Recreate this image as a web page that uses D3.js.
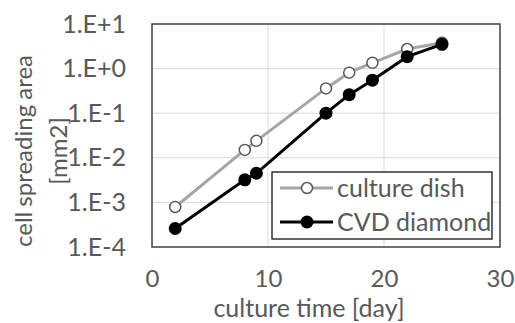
<!DOCTYPE html>
<html><head><meta charset="utf-8">
<script src="https://cdn.jsdelivr.net/npm/d3@7"></script>
<style>body{margin:0;background:#fff}svg{display:block}text{font-family:Lato,"Open Sans",sans-serif}</style>
</head><body><svg id="c" width="515" height="323"></svg>
<script>
const days = [2, 8, 9, 15, 17, 19, 22, 25];
const cultureDish = [7.9e-4, 0.015, 0.024, 0.36, 0.81, 1.35, 2.75, 3.8];
const cvdDiamond = [2.6e-4, 3.2e-3, 4.5e-3, 0.10, 0.26, 0.55, 1.85, 3.5];
const xTicks = [0, 10, 20, 30];
const yTicks = [1e-4, 1e-3, 1e-2, 1e-1, 1e0, 1e1];
const yTickLabels = ["1.E-4", "1.E-3", "1.E-2", "1.E-1", "1.E+0", "1.E+1"];
const seriesNames = ["culture dish", "CVD diamond"];

const svg = d3.select("#c");
const L = 152, R = 500, T = 24, B = 247;
const x = d3.scaleLinear().domain([0, 30]).range([L, R]);
const y = d3.scaleLog().domain([1e-4, 1e1]).range([B, T]);
const txt = "#595959";

svg.append("g").selectAll("line").data(yTicks.slice(1, -1)).join("line")
  .attr("x1", L).attr("x2", R).attr("y1", d => y(d)).attr("y2", d => y(d))
  .attr("stroke", "#d9d9d9").attr("stroke-width", 1);
svg.append("g").selectAll("line").data(xTicks.slice(1, -1)).join("line")
  .attr("y1", T).attr("y2", B).attr("x1", d => x(d)).attr("x2", d => x(d))
  .attr("stroke", "#d9d9d9").attr("stroke-width", 1);

const yAxis = svg.append("g").attr("transform", `translate(${L},0)`)
  .call(d3.axisLeft(y).tickValues(yTicks).tickFormat((d, i) => yTickLabels[i]).tickSize(0).tickPadding(26));
yAxis.select(".domain").remove();
yAxis.selectAll("text").attr("font-size", 25).attr("fill", txt).attr("font-family", "Lato,sans-serif");

const xAxis = svg.append("g").attr("transform", `translate(0,${B})`)
  .call(d3.axisBottom(x).tickValues(xTicks).tickSize(0).tickPadding(23));
xAxis.select(".domain").remove();
xAxis.selectAll("text").attr("font-size", 24).attr("fill", txt).attr("font-family", "Lato,sans-serif");

svg.append("rect").attr("x", L).attr("y", T).attr("width", R - L).attr("height", B - T)
  .attr("fill", "none").attr("stroke", "#404040").attr("stroke-width", 1.5);

svg.append("text").attr("x", 309).attr("y", 317).attr("text-anchor", "middle")
  .attr("font-size", 25).attr("fill", txt).text("culture time [day]");
const yt = svg.append("text").attr("transform", "translate(32,151) rotate(-90)")
  .attr("text-anchor", "middle").attr("font-size", 24).attr("fill", txt);
yt.append("tspan").attr("x", 0).attr("y", 0).attr("word-spacing", -1).text("cell spreading area");
yt.append("tspan").attr("x", 0).attr("y", 35).text("[mm2]");

const line = d3.line().x(d => x(d[0])).y(d => y(d[1]));
const s1 = days.map((d, i) => [d, cultureDish[i]]);
const s2 = days.map((d, i) => [d, cvdDiamond[i]]);
svg.append("path").datum(s1).attr("d", line).attr("fill", "none").attr("stroke", "#a6a6a6").attr("stroke-width", 3);
svg.append("path").datum(s2).attr("d", line).attr("fill", "none").attr("stroke", "#000").attr("stroke-width", 3);
svg.append("g").selectAll("circle").data(s1).join("circle")
  .attr("cx", d => x(d[0])).attr("cy", d => y(d[1])).attr("r", 5.5)
  .attr("fill", "#fff").attr("stroke", "#595959").attr("stroke-width", 1.5);
svg.append("g").selectAll("circle").data(s2).join("circle")
  .attr("cx", d => x(d[0])).attr("cy", d => y(d[1])).attr("r", 6.5)
  .attr("fill", "#000");

const lg = svg.append("g");
lg.append("rect").attr("x", 272).attr("y", 172).attr("width", 220).attr("height", 67)
  .attr("fill", "#fff").attr("stroke", "#000").attr("stroke-width", 1.2);
const ly = [188, 222];
lg.append("line").attr("x1", 280).attr("x2", 333).attr("y1", ly[0]).attr("y2", ly[0]).attr("stroke", "#a6a6a6").attr("stroke-width", 3);
lg.append("circle").attr("cx", 307).attr("cy", ly[0]).attr("r", 5.5).attr("fill", "#fff").attr("stroke", "#595959").attr("stroke-width", 1.5);
lg.append("line").attr("x1", 280).attr("x2", 333).attr("y1", ly[1]).attr("y2", ly[1]).attr("stroke", "#000").attr("stroke-width", 3);
lg.append("circle").attr("cx", 307).attr("cy", ly[1]).attr("r", 6.5).attr("fill", "#000");
lg.selectAll("text.l").data(seriesNames).join("text").attr("class", "l")
  .attr("x", 337).attr("y", (d, i) => ly[i]).attr("dy", "0.35em")
  .attr("font-size", 25).attr("fill", txt).text(d => d);
</script></body></html>
